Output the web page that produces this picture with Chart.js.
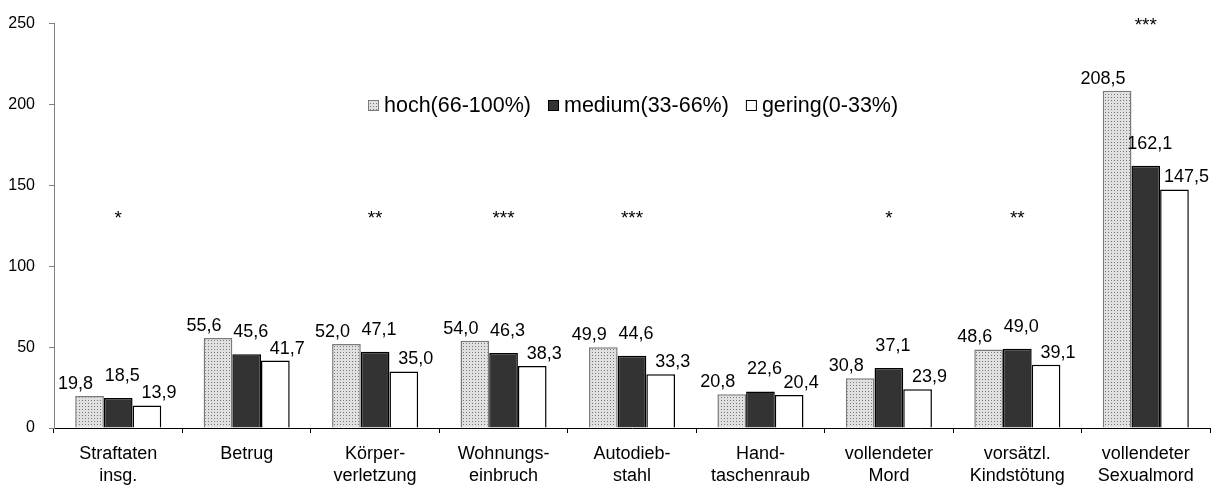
<!DOCTYPE html>
<html>
<head>
<meta charset="utf-8">
<script src="https://cdn.jsdelivr.net/npm/chart.js@4.4.1/dist/chart.umd.min.js"></script>
<style>
    body { margin: 0; background: #fff; }
    #wrap { width: 1230px; height: 494px; }
</style>
</head>
<body>
<div id="wrap"><canvas id="crimeChart" width="1230" height="494"></canvas></div>
<script>
// Kategorien (mehrzeilige Beschriftung)
const categories = [
    ['Straftaten', 'insg.'],
    ['Betrug'],
    ['Körper-', 'verletzung'],
    ['Wohnungs-', 'einbruch'],
    ['Autodieb-', 'stahl'],
    ['Hand-', 'taschenraub'],
    ['vollendeter', 'Mord'],
    ['vorsätzl.', 'Kindstötung'],
    ['vollendeter', 'Sexualmord']
];

const seriesNames = ['hoch(66-100%)', 'medium(33-66%)', 'gering(0-33%)'];

const hochValues   = [19.8, 55.6, 52.0, 54.0, 49.9, 20.8, 30.8, 48.6, 208.5];
const mediumValues = [18.5, 45.6, 47.1, 46.3, 44.6, 22.6, 37.1, 49.0, 162.1];
const geringValues = [13.9, 41.7, 35.0, 38.3, 33.3, 20.4, 23.9, 39.1, 147.5];

// Signifikanzniveau je Kategorie
const significance = ['*', '', '**', '***', '***', '', '*', '**', '***'];

const yTicks = [0, 50, 100, 150, 200, 250];

const FONT = 'Liberation Sans, Arial, sans-serif';

// Punktmuster für "hoch"
function makeDotPattern() {
    const tile = document.createElement('canvas');
    tile.width = 3;
    tile.height = 3;
    const t = tile.getContext('2d');
    t.fillStyle = '#e0e0e0';
    t.fillRect(0, 0, 3, 3);
    t.fillStyle = '#7a7a7a';
    t.fillRect(1, 1, 1, 1);
    return document.getElementById('crimeChart').getContext('2d').createPattern(tile, 'repeat');
}

const dotPattern = makeDotPattern();

const fmt = v => v.toFixed(1).replace('.', ',');

// Wertebeschriftungen (leicht versetzt wie im Original)
const labelShift = [
    { dx: -14, dy: 12 },
    { dx: 4, dy: 22 },
    { dx: 12, dy: 12 }
];

const valueLabels = {
    id: 'valueLabels',
    afterDatasetsDraw(chart) {
        const ctx = chart.ctx;
        ctx.save();
        ctx.font = '18px ' + FONT;
        ctx.fillStyle = '#000';
        ctx.textAlign = 'center';
        ctx.textBaseline = 'middle';
        chart.data.datasets.forEach((ds, di) => {
            const meta = chart.getDatasetMeta(di);
            meta.data.forEach((bar, i) => {
                const s = labelShift[di];
                ctx.fillText(fmt(ds.data[i]), bar.x + s.dx, bar.y - s.dy);
            });
        });

        // Sternchen
        const xs = chart.scales.x, ys = chart.scales.y;
        ctx.font = '19px ' + FONT;
        significance.forEach((sig, i) => {
            if (!sig) return;
            const top = Math.max(hochValues[i], mediumValues[i], geringValues[i]);
            const val = Math.max(133, top + 44);
            ctx.fillText(sig, xs.getPixelForValue(i), ys.getPixelForValue(val) + 6);
        });
        ctx.restore();
    }
};

// Legende innerhalb der Zeichenfläche
const innerLegend = {
    id: 'innerLegend',
    afterDraw(chart) {
        const ctx = chart.ctx;
        const fills = chart.data.datasets.map(d => d.backgroundColor);
        const borders = chart.data.datasets.map(d => d.borderColor);
        let x = 368;
        const y = 105;
        ctx.save();
        ctx.font = '21.5px ' + FONT;
        ctx.textBaseline = 'middle';
        ctx.textAlign = 'left';
        seriesNames.forEach((name, i) => {
            ctx.fillStyle = fills[i];
            ctx.fillRect(x, y - 5, 10, 10);
            ctx.strokeStyle = borders[i];
            ctx.lineWidth = 1;
            ctx.strokeRect(x + 0.5, y - 4.5, 10, 10);
            ctx.fillStyle = '#000';
            ctx.fillText(name, x + 16, y + 1);
            x += 16 + ctx.measureText(name).width + 17;
        });
        ctx.restore();
    }
};

const config = {
    type: 'bar',
    data: {
        labels: categories,
        datasets: [
            {
                label: seriesNames[0],
                data: hochValues,
                backgroundColor: dotPattern,
                borderColor: '#7a7a7a',
                borderWidth: 1.5
            },
            {
                label: seriesNames[1],
                data: mediumValues,
                backgroundColor: '#333333',
                borderColor: '#000',
                borderWidth: 1.5
            },
            {
                label: seriesNames[2],
                data: geringValues,
                backgroundColor: '#ffffff',
                borderColor: '#000',
                borderWidth: 1.5
            }
        ]
    },
    options: {
        responsive: false,
        animation: false,
        categoryPercentage: 0.67,
        barPercentage: 1.0,
        layout: { padding: { top: 20, right: 20, left: 0, bottom: 0 } },
        plugins: {
            legend: { display: false },
            tooltip: { enabled: false }
        },
        scales: {
            x: {
                grid: {
                    offset: true,
                    drawOnChartArea: false,
                    drawTicks: true,
                    tickLength: 5,
                    color: '#000'
                },
                border: { color: '#000', width: 1 },
                ticks: {
                    color: '#000',
                    font: { family: FONT, size: 18, lineHeight: 1.22 },
                    padding: 10,
                    maxRotation: 0,
                    autoSkip: false
                },
                afterFit(scale) { scale.height = 66; }
            },
            y: {
                min: 0,
                max: 250,
                afterBuildTicks(scale) {
                    scale.ticks = yTicks.map(v => ({ value: v }));
                },
                grid: {
                    drawOnChartArea: false,
                    drawTicks: true,
                    tickLength: 5,
                    color: '#808080'
                },
                border: { color: '#808080', width: 1 },
                ticks: {
                    color: '#000',
                    font: { family: FONT, size: 16 },
                    padding: 14
                },
                afterFit(scale) { scale.width = 54; }
            }
        }
    },
    plugins: [valueLabels, innerLegend]
};

new Chart(document.getElementById('crimeChart'), config);
</script>
</body>
</html>
